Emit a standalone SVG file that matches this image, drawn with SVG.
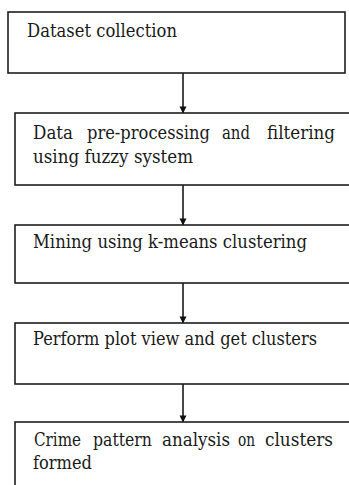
<svg xmlns="http://www.w3.org/2000/svg" width="349" height="485" viewBox="0 0 349 485">
<style>
.box{fill:#fff;stroke:#1e1e1e;stroke-width:1.6}
.t{font-family:"DejaVu Serif","Liberation Serif",serif;font-size:18px;fill:#1a1a1a}
.c{stroke:#333;stroke-width:1.8;fill:none;marker-end:url(#ah)}
</style>
<defs>
<marker id="ah" markerUnits="userSpaceOnUse" markerWidth="8" markerHeight="8" refX="7" refY="4" orient="auto" viewBox="0 0 8 8">
<path d="M0.5,0.5 L7.5,4 L0.5,7.5 Z" fill="#111"/>
</marker>
</defs>
<rect width="349" height="485" fill="#fff"/>
<g id="connectors">
<line class="c" x1="183" y1="73" x2="183" y2="113"/>
<line class="c" x1="183" y1="185" x2="183" y2="225"/>
<line class="c" x1="183" y1="283" x2="183" y2="323"/>
<line class="c" x1="183" y1="384" x2="183" y2="422"/>
</g>
<g id="n1">
<rect class="box" x="8" y="12" width="337" height="61"/>
<text class="t" x="27" y="37" textLength="150" lengthAdjust="spacingAndGlyphs">Dataset collection</text>
</g>
<g id="n2">
<rect class="box" x="15" y="113" width="345" height="72"/>
<text class="t" x="33" y="139" textLength="40" lengthAdjust="spacingAndGlyphs">Data</text>
<text class="t" x="87" y="139" textLength="123" lengthAdjust="spacingAndGlyphs">pre-processing</text>
<text class="t" x="222" y="139" textLength="28" lengthAdjust="spacingAndGlyphs">and</text>
<text class="t" x="267" y="139" textLength="68" lengthAdjust="spacingAndGlyphs">filtering</text>
<text class="t" x="33" y="163" textLength="160" lengthAdjust="spacingAndGlyphs">using fuzzy system</text>
</g>
<g id="n3">
<rect class="box" x="15" y="225" width="345" height="58"/>
<text class="t" x="33" y="248" textLength="274" lengthAdjust="spacingAndGlyphs">Mining using k-means clustering</text>
</g>
<g id="n4">
<rect class="box" x="15" y="323" width="345" height="61"/>
<text class="t" x="33" y="345" textLength="284" lengthAdjust="spacingAndGlyphs">Perform plot view and get clusters</text>
</g>
<g id="n5">
<rect class="box" x="15" y="422" width="345" height="80"/>
<text class="t" x="34" y="446" textLength="47" lengthAdjust="spacingAndGlyphs">Crime</text>
<text class="t" x="93" y="446" textLength="59" lengthAdjust="spacingAndGlyphs">pattern</text>
<text class="t" x="162" y="446" textLength="68" lengthAdjust="spacingAndGlyphs">analysis</text>
<text class="t" x="238" y="446" textLength="17" lengthAdjust="spacingAndGlyphs">on</text>
<text class="t" x="265" y="446" textLength="68" lengthAdjust="spacingAndGlyphs">clusters</text>
<text class="t" x="33" y="469" textLength="59" lengthAdjust="spacingAndGlyphs">formed</text>
</g>
</svg>
